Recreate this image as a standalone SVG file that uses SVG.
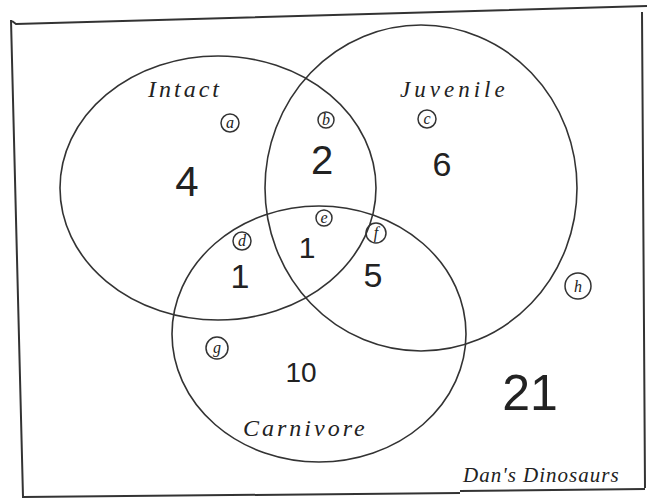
<svg xmlns="http://www.w3.org/2000/svg" width="652" height="498" viewBox="0 0 652 498">
<style>
.frame{fill:none;stroke:#333;stroke-width:2}
.set{fill:none;stroke:#333;stroke-width:1.6}
.tag{fill:none;stroke:#333;stroke-width:1.5}
.lbl{font-family:"Liberation Serif",serif;font-style:italic;fill:#222}
.num{font-family:"Liberation Sans",sans-serif;fill:#222;text-anchor:middle}
.let{font-family:"Liberation Serif",serif;font-style:italic;fill:#222;text-anchor:middle;font-size:16px}
</style>
<rect width="652" height="498" fill="#fff"/>
<g id="frame">
<path class="frame" d="M12,21 L16,24 L647,6 M642,12 L645,488 M11,20 L23,497 L460,493 M460,491 L645,489"/>
</g>
<g id="connectors"></g>
<g id="intact">
<ellipse class="set" cx="218" cy="188" rx="158" ry="132"/>
<text class="lbl" x="148" y="97" font-size="24" letter-spacing="3">Intact</text>
</g>
<g id="juvenile">
<ellipse class="set" cx="421" cy="188" rx="156" ry="163"/>
<text class="lbl" x="400" y="97" font-size="23" letter-spacing="4">Juvenile</text>
</g>
<g id="carnivore">
<ellipse class="set" cx="319" cy="334" rx="147" ry="128"/>
<text class="lbl" x="243" y="436" font-size="24" letter-spacing="3">Carnivore</text>
</g>
<g id="region-a"><circle class="tag" cx="230" cy="123" r="9"/><text class="let" x="230" y="128">a</text><text class="num" x="187" y="196" font-size="42">4</text></g>
<g id="region-b"><circle class="tag" cx="326" cy="120" r="8"/><text class="let" x="326" y="125">b</text><text class="num" x="322" y="174" font-size="40">2</text></g>
<g id="region-c"><circle class="tag" cx="427" cy="119" r="9"/><text class="let" x="427" y="124">c</text><text class="num" x="442" y="176" font-size="34">6</text></g>
<g id="region-d"><circle class="tag" cx="242" cy="241" r="9"/><text class="let" x="242" y="246">d</text><text class="num" x="240" y="288" font-size="34">1</text></g>
<g id="region-e"><circle class="tag" cx="324" cy="218" r="8"/><text class="let" x="324" y="223">e</text><text class="num" x="307" y="258" font-size="30">1</text></g>
<g id="region-f"><circle class="tag" cx="376" cy="233" r="10"/><text class="let" x="376" y="238">f</text><text class="num" x="373" y="287" font-size="34">5</text></g>
<g id="region-g"><circle class="tag" cx="217" cy="348" r="11"/><text class="let" x="217" y="353">g</text><text class="num" x="301" y="382" font-size="28">10</text></g>
<g id="region-h"><circle class="tag" cx="578" cy="286" r="13"/><text class="let" x="578" y="292" font-size="18">h</text><text class="num" x="530" y="410" font-size="50">21</text></g>
<g id="title"><text class="lbl" x="463" y="482" font-size="21" letter-spacing="1">Dan's Dinosaurs</text></g>
</svg>
